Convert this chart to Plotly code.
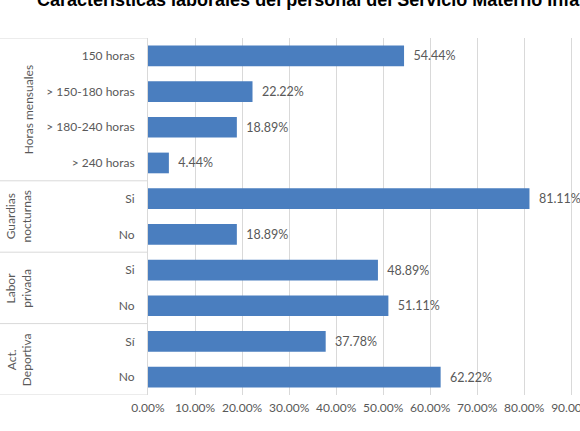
import plotly.graph_objects as go

# ---- data ----
labels = ["150 horas", "> 150-180 horas", "> 180-240 horas", "> 240 horas",
          "Si", "No", "Si", "No", "Sí", "No"]
values = [54.44, 22.22, 18.89, 4.44, 81.11, 18.89, 48.89, 51.11, 37.78, 62.22]
groups = ["Horas mensuales", "Guardias<br>nocturnas", "Labor<br>privada", "Act.<br>Deportiva"]
group_sizes = [4, 2, 2, 2]
x_ticks = [0, 10, 20, 30, 40, 50, 60, 70, 80, 90]
title = "Características laborales del personal del Servicio Materno Infantil"

W, H = 580, 431
ML, MT, MB = 148, 38, 36
X_MAX = 91.0
PW = (571 - ML) * X_MAX / 90.0
MR = W - ML - PW
PH = H - MT - MB

pos = list(range(len(labels)))
fig = go.Figure(go.Bar(
    x=values, y=pos, orientation="h",
    marker=dict(color="#4A7EBF", line=dict(width=0)),
    text=[f"{v:.2f}%" for v in values],
    texttemplate="  %{text}",
    textposition="outside",
    textfont=dict(family="Lato", size=12.5, color="#595959"),
    cliponaxis=False,
))

grey = "#595959"
line_col = "#D9D9D9"

def px_to_paper_x(px):
    return (px - ML) / PW

def px_to_paper_y(py):
    return (H - MB - py) / PH

shapes = []
annotations = []
bounds = [-0.5]
acc = -0.5
for s in group_sizes:
    acc += s
    bounds.append(acc)
for b in bounds:
    shapes.append(dict(type="line", xref="paper", yref="y",
                       x0=px_to_paper_x(0), x1=0, y0=b, y1=b,
                       line=dict(color=line_col, width=1)))
start = -0.5
for g, s in zip(groups, group_sizes):
    mid = start + s / 2
    start += s
    cx = 28 if "<br>" not in g else 19
    annotations.append(dict(text=g, xref="paper", yref="y",
                            x=px_to_paper_x(cx), y=mid, textangle=-90,
                            showarrow=False, xanchor="center", yanchor="middle",
                            font=dict(family="Lato", size=12, color=grey)))
annotations.append(dict(text=f"<b>{title}</b>", xref="paper", yref="paper",
                        x=px_to_paper_x(35), y=px_to_paper_y(0),
                        xanchor="left", yanchor="middle", showarrow=False,
                        font=dict(family="Liberation Sans", size=18, color="#000000")))

fig.update_layout(
    width=W, height=H,
    margin=dict(l=ML, r=MR, t=MT, b=MB, autoexpand=False),
    paper_bgcolor="white", plot_bgcolor="white",
    showlegend=False,
    bargap=0.42,
    shapes=shapes,
    annotations=annotations,
    xaxis=dict(range=[0, X_MAX], tickvals=x_ticks,
               ticktext=[f"{t:.2f}%" for t in x_ticks],
               showgrid=True, gridcolor=line_col, gridwidth=1,
               zeroline=False, showline=False, automargin=False,
               tickfont=dict(family="Lato", size=12, color=grey),
               ticklabelstandoff=4, ticklabeloverflow="allow"),
    yaxis=dict(range=[len(labels) - 0.5, -0.5], tickvals=pos, ticktext=labels,
               showgrid=False, zeroline=False, automargin=False,
               showline=True, linecolor=line_col, linewidth=1,
               tickfont=dict(family="Lato", size=12, color=grey),
               ticklabelstandoff=10),
)

fig.write_html("out.html")
